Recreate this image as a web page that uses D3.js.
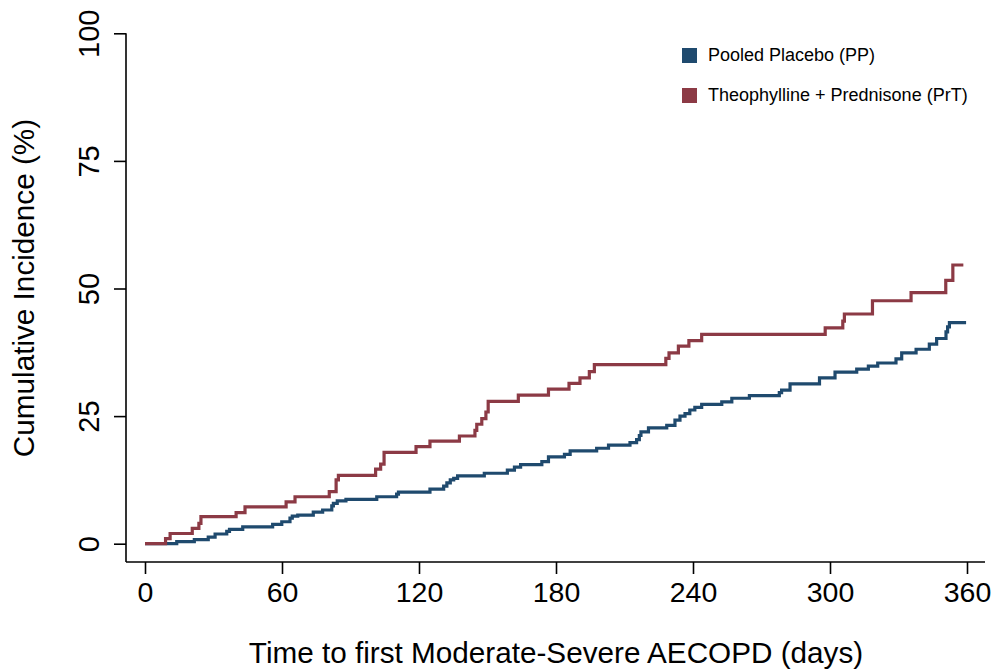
<!DOCTYPE html>
<html>
<head>
<meta charset="utf-8">
<script src="https://cdn.jsdelivr.net/npm/d3@7"></script>
<style>
  body { margin: 0; background: #fff; }
  svg { display: block; font-family: "Liberation Sans", Arial, sans-serif; }
</style>
</head>
<body>
<svg width="995" height="672"></svg>
<script>
// data (days, cumulative %)
var ppDays = [0, 13.9, 21.6, 27.7, 30.7, 35.8, 37, 42.8, 55.9, 59.9, 63.5, 64.5, 66.9, 73.7, 77.8,
  81.8, 82.5, 84.2, 88.0, 101.5, 110.2, 111, 124.8, 130.8, 132.2, 133.7, 135.2, 136.9, 148.6,
  158.7, 161.8, 164.5, 173.8, 176.7, 183.7, 186.2, 197.8, 203.0, 212.4, 215.3, 216.5, 217.2,
  220.5, 228.5, 232.1, 234.3, 236.5, 238.6, 240.8, 243.8, 252.6, 257.0, 264.7, 277.8, 278.8,
  282.5, 295.4, 302.2, 311.7, 316.8, 320.9, 328.9, 331.4, 337.7, 343.5, 346.7, 350.8, 351.5,
  352.3, 359.6];
var ppPct = [0, 0.4, 0.8, 1.3, 1.9, 2.4, 2.8, 3.3, 3.8, 4.3, 5.0, 5.4, 5.6, 6.2, 6.6,
  7.4, 7.9, 8.4, 8.7, 9.2, 9.7, 10.1, 10.7, 11.3, 11.9, 12.5, 12.8, 13.3, 13.8,
  14.4, 15.0, 15.5, 16.1, 17.0, 17.5, 18.2, 18.7, 19.3, 19.8, 20.4, 21.2, 21.9,
  22.7, 23.2, 24.2, 25.0, 25.5, 26.2, 26.7, 27.3, 27.8, 28.5, 29.0, 29.6, 30.1,
  31.3, 32.5, 33.6, 34.2, 34.8, 35.4, 36.2, 37.4, 38.1, 39.1, 40.2, 41.5, 42.5,
  43.3, 43.3];

var prtDays = [0, 9, 11, 20.7, 23.6, 24.5, 39.9, 43.8, 61.8, 65.7, 80.7, 83.7, 84.7, 101, 103.2,
  104.7, 118.7, 124.8, 137.7, 144.5, 145.3, 147.5, 149.3, 150.3, 163.5, 176.7, 185.7, 190.5,
  194.6, 196.8, 228.1, 229.5, 233.6, 238.2, 243.8, 297.9, 305.6, 306.3, 318.6, 335.5, 350.7,
  353.8, 358.4];
var prtPct = [0, 1.0, 2.0, 3.0, 4.0, 5.3, 6.1, 7.2, 8.2, 9.2, 10.2, 12.5, 13.4, 14.6, 15.6,
  17.9, 19.0, 20.1, 21.1, 22.2, 23.4, 24.5, 25.8, 27.9, 29.1, 30.3, 31.4, 32.5,
  33.7, 35.1, 36.3, 37.4, 38.7, 39.8, 41.0, 42.3, 43.6, 45.0, 47.6, 49.2, 51.6,
  54.6, 54.6];

var xTicks = [0, 60, 120, 180, 240, 300, 360];
var yTicks = [0, 25, 50, 75, 100];
var seriesNames = ["Pooled Placebo (PP)", "Theophylline + Prednisone (PrT)"];
var seriesColors = ["#1f4a6e", "#8c3a45"];

var svg = d3.select("svg");

var xScale = d3.scaleLinear().domain([0, 360]).range([145, 967]);
var yScale = d3.scaleLinear().domain([0, 100]).range([543.7, 33.3]);

var axisX = 126, axisY = 562;

// axis lines (stata style, extend past the data range)
svg.append("line")
  .attr("x1", axisX).attr("x2", axisX)
  .attr("y1", yScale(100)).attr("y2", axisY)
  .attr("stroke", "#000").attr("stroke-width", 1.6);
svg.append("line")
  .attr("x1", axisX).attr("x2", 985)
  .attr("y1", axisY).attr("y2", axisY)
  .attr("stroke", "#000").attr("stroke-width", 1.6);

// y axis
var gy = svg.append("g")
  .attr("transform", `translate(${axisX},0)`)
  .call(d3.axisLeft(yScale).tickValues(yTicks).tickSize(12).tickSizeOuter(0));
gy.select(".domain").remove();
gy.selectAll("line").attr("stroke-width", 1.6);
gy.selectAll("text")
  .attr("x", null).attr("dy", null)
  .attr("transform", "translate(-27,0) rotate(-90)")
  .attr("text-anchor", "middle")
  .attr("font-size", 29)
  .attr("font-family", "Liberation Sans, Arial, sans-serif")
  .attr("fill", "#000");

// x axis
var gx = svg.append("g")
  .attr("transform", `translate(0,${axisY})`)
  .call(d3.axisBottom(xScale).tickValues(xTicks).tickSize(12).tickSizeOuter(0));
gx.select(".domain").remove();
gx.selectAll("line").attr("stroke-width", 1.6);
gx.selectAll("text")
  .attr("y", 40).attr("dy", null)
  .attr("font-size", 28.5)
  .attr("font-family", "Liberation Sans, Arial, sans-serif")
  .attr("fill", "#000");

// titles
svg.append("text")
  .attr("x", 556).attr("y", 663)
  .attr("text-anchor", "middle")
  .attr("font-size", 29.7)
  .text("Time to first Moderate-Severe AECOPD (days)");

svg.append("text")
  .attr("transform", "translate(34,288) rotate(-90)")
  .attr("text-anchor", "middle")
  .attr("font-size", 29.7)
  .text("Cumulative Incidence (%)");

// step lines
var line = d3.line()
  .x(d => xScale(d[0]))
  .y(d => yScale(d[1]))
  .curve(d3.curveStepAfter);

var ppData = ppDays.map((d, i) => [d, ppPct[i]]);
var prtData = prtDays.map((d, i) => [d, prtPct[i]]);

svg.append("path")
  .datum(ppData)
  .attr("d", line)
  .attr("fill", "none")
  .attr("stroke", seriesColors[0])
  .attr("stroke-width", 3.2);

svg.append("path")
  .datum(prtData)
  .attr("d", line)
  .attr("fill", "none")
  .attr("stroke", seriesColors[1])
  .attr("stroke-width", 3.2);

// legend
var legend = svg.append("g").attr("transform", "translate(682,48)");
seriesNames.forEach(function(name, i) {
  legend.append("rect")
    .attr("x", 0).attr("y", i * 40)
    .attr("width", 15).attr("height", 15)
    .attr("fill", seriesColors[i]);
  legend.append("text")
    .attr("x", 26).attr("y", i * 40 + 13)
    .attr("font-size", 18)
    .text(name);
});
</script>
</body>
</html>
